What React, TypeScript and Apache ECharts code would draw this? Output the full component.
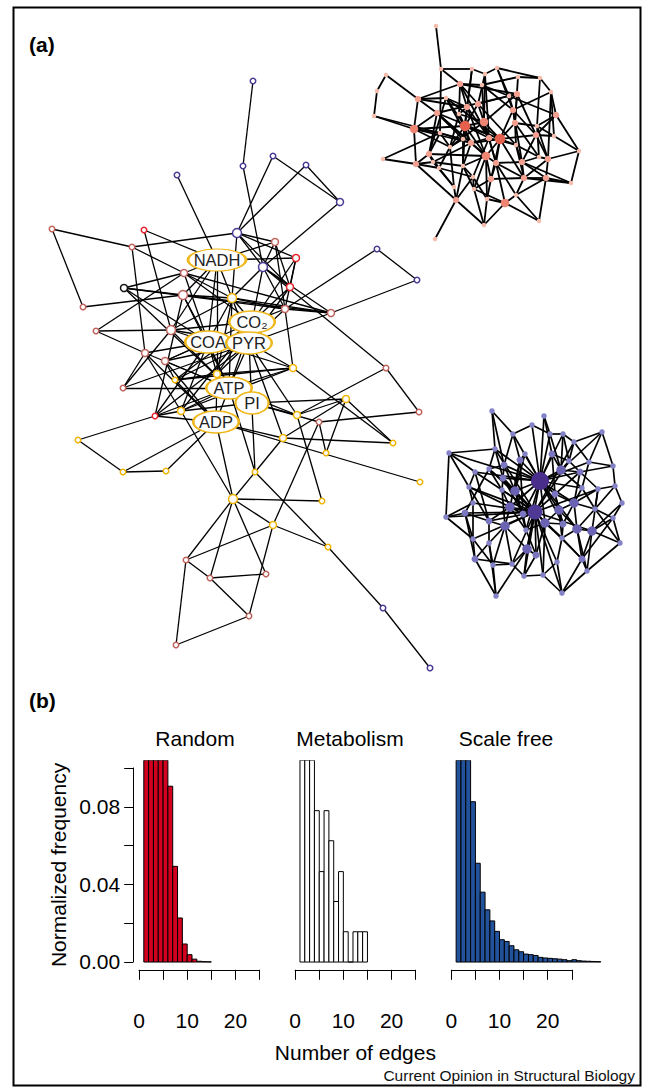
import React, { useEffect, useRef } from 'react';
import * as echarts from 'echarts';

// ---------- Histogram data (b) ----------
const degreeBins = [1, 2, 3, 4, 5, 6, 7, 8, 9, 10, 11, 12, 13, 14, 15, 16, 17, 18, 19, 20, 21, 22, 23, 24, 25, 26, 27, 28, 29, 30];
const randomFreq = [0.104, 0.104, 0.104, 0.104, 0.104, 0.0906, 0.0493, 0.0227, 0.0093, 0.0038, 0.0015, 0.0004, 0.0002, 0.0001];
const metabolismFreq = [0.104, 0.104, 0.104, 0.078, 0.0466, 0.078, 0.0625, 0.0312, 0.0466, 0.0156, 0, 0.0156, 0.0156, 0.0156];
const scaleFreeFreq = [0.104, 0.104, 0.104, 0.0826, 0.0509, 0.036, 0.0269, 0.0212, 0.0158, 0.0115, 0.0106, 0.0084, 0.0063, 0.0053, 0.0041, 0.0038, 0.0034, 0.0024, 0.0021, 0.0019, 0.0017, 0.0015, 0.0012, 0.0007, 0.0012, 0.0007, 0.0005, 0.0004, 0.0003, 0.0002];
const panelTitles = ['Random', 'Metabolism', 'Scale free'];
const xTickLabels = [0, 10, 20];
const yTickLabels = [0, 0.04, 0.08];

// ---------- Network data (a) ----------
// metabolism network: [name, layoutX, layoutY, group, degreeTier]
const metabNodes: [string, number, number, string, number][] = [
  ['NADH', 217, 260, 'L', 0], ['CO₂', 252, 322, 'L', 0], ['COA', 208, 342, 'L', 0], ['PYR', 249, 343, 'L', 0],
  ['ATP', 229, 388, 'L', 0], ['PI', 252, 403, 'L', 0], ['ADP', 216, 422, 'L', 0],
  ['p1', 253, 81, 'p', 1], ['p2', 243, 166, 'p', 1], ['p3', 273, 156, 'p', 1], ['p4', 306, 165, 'p', 1],
  ['p5', 177, 175, 'p', 1], ['p6', 340, 202, 'p', 2], ['p7', 237, 233, 'p', 3], ['p8', 263, 267, 'p', 3],
  ['p9', 377, 249, 'p', 1], ['p10', 417, 280, 'p', 1], ['p11', 383, 608, 'p', 1], ['p12', 430, 668, 'p', 1],
  ['r1', 52, 229, 'r', 1], ['r2', 144, 230, 'R', 1], ['r3', 132, 247, 'r', 1], ['r4', 275, 242, 'r', 2],
  ['r5', 296, 258, 'R', 2], ['r6', 184, 273, 'r', 2], ['k1', 124, 288, 'k', 2], ['r7', 183, 295, 'r', 3],
  ['r8', 290, 287, 'R', 2], ['y1', 232, 298, 'y', 3], ['r9', 285, 309, 'r', 2], ['r10', 331, 313, 'r', 2],
  ['r11', 83, 307, 'r', 1], ['r12', 96, 331, 'r', 1], ['r13', 171, 330, 'r', 3], ['r14', 145, 353, 'r', 2],
  ['r15', 165, 361, 'r', 2], ['y2', 175, 380, 'y', 1], ['y3', 217, 374, 'y', 2], ['r16', 123, 388, 'r', 1],
  ['r17', 155, 416, 'R', 1], ['y4', 181, 411, 'y', 2], ['y5', 78, 440, 'y', 1], ['y6', 293, 368, 'y', 2],
  ['r18', 386, 368, 'r', 1], ['y7', 346, 399, 'y', 2], ['r19', 419, 412, 'r', 1], ['y8', 297, 415, 'y', 2],
  ['r20', 319, 422, 'r', 1], ['y9', 283, 438, 'y', 2], ['y10', 393, 443, 'y', 1], ['y11', 326, 453, 'y', 1],
  ['y12', 123, 472, 'y', 1], ['y13', 166, 471, 'y', 1], ['y14', 255, 472, 'y', 1], ['y15', 420, 482, 'y', 1],
  ['y16', 233, 499, 'y', 3], ['y17', 322, 501, 'y', 1], ['y18', 273, 525, 'y', 2], ['y19', 328, 547, 'y', 1],
  ['r21', 186, 560, 'r', 1], ['r22', 210, 578, 'r', 1], ['r23', 266, 574, 'r', 1], ['r24', 249, 616, 'r', 1],
  ['r25', 176, 645, 'r', 1],
];
const metabLinks: [string, string][] = [
  ['p1', 'p2'], ['p2', 'p8'], ['p3', 'p7'], ['p3', 'p6'], ['p4', 'p7'], ['p4', 'p6'], ['p6', 'p8'], ['p5', 'NADH'], ['p9', 'p10'], ['p9', 'r9'], ['p10', 'r10'],
  ['p7', 'r3'], ['r1', 'r3'], ['r1', 'r11'], ['r2', 'NADH'], ['r2', 'r13'], ['r3', 'r14'], ['p7', 'p8'], ['p7', 'r5'], ['p7', 'y1'], ['p7', 'r8'], ['p7', 'r4'],
  ['r4', 'p8'], ['r4', 'NADH'], ['r4', 'r8'], ['r4', 'r9'], ['NADH', 'r5'], ['r8', 'CO₂'], ['r8', 'PYR'], ['p8', 'r9'], ['p8', 'r10'], ['p8', 'r8'], ['r9', 'r10'],
  ['r7', 'r10'], ['r6', 'r10'], ['k1', 'r9'], ['k1', 'r6'], ['k1', 'r7'], ['k1', 'COA'], ['r11', 'r7'], ['r12', 'r6'], ['r12', 'r13'], ['r12', 'r14'],
  ['r13', 'NADH'], ['r13', 'y1'], ['r13', 'CO₂'], ['r13', 'COA'], ['r13', 'ATP'], ['r14', 'ADP'], ['r14', 'y4'], ['r14', 'r16'], ['r14', 'COA'],
  ['r15', 'ATP'], ['r15', 'y2'], ['r15', 'COA'], ['r15', 'PYR'], ['r16', 'ATP'], ['r16', 'r13'], ['r17', 'y4'], ['r17', 'ATP'], ['r17', 'COA'], ['r17', 'y5'], ['r17', 'r7'],
  ['y2', 'PYR'], ['y2', 'CO₂'], ['y2', 'y3'], ['y3', 'COA'], ['y3', 'PYR'], ['y3', 'CO₂'], ['y3', 'y6'], ['y4', 'ATP'], ['y4', 'PI'], ['y4', 'CO₂'],
  ['y6', 'y10'], ['y6', 'COA'], ['y6', 'y2'], ['y6', 'r9'], ['r18', 'y8'], ['r18', 'r19'], ['r18', 'p8'], ['y7', 'y9'], ['y7', 'y8'], ['y7', 'y11'], ['y7', 'y10'],
  ['r20', 'r19'], ['r20', 'y18'], ['r20', 'y11'], ['y8', 'y17'], ['y8', 'PI'], ['y9', 'y10'], ['y9', 'y16'], ['y9', 'PYR'],
  ['ADP', 'y12'], ['ADP', 'y13'], ['ADP', 'y16'], ['ADP', 'y9'], ['ADP', 'y15'], ['ADP', 'r15'], ['y14', 'PYR'], ['y14', 'y19'], ['y14', 'ATP'],
  ['y16', 'y17'], ['y16', 'y18'], ['y16', 'r21'], ['y16', 'r22'], ['y16', 'r23'], ['y18', 'r21'], ['y18', 'y19'], ['y18', 'r24'], ['r21', 'r22'], ['r21', 'r25'],
  ['r22', 'r23'], ['r22', 'r24'], ['r24', 'r25'], ['y19', 'p11'], ['p11', 'p12'], ['y5', 'y12'], ['y12', 'y13'],
  ['ATP', 'COA'], ['ATP', 'PYR'], ['ATP', 'y3'], ['ATP', 'ADP'], ['ATP', 'PI'], ['ATP', 'y8'], ['ATP', 'y6'], ['ATP', 'CO₂'], ['PYR', 'CO₂'], ['PYR', 'y8'],
  ['PYR', 'y6'], ['PYR', 'r9'], ['PYR', 'r10'], ['PYR', 'y1'], ['COA', 'y1'], ['COA', 'NADH'], ['COA', 'r7'], ['COA', 'r6'], ['CO₂', 'r9'], ['CO₂', 'y1'],
  ['CO₂', 'r5'], ['NADH', 'y1'], ['NADH', 'r6'], ['NADH', 'r7'], ['NADH', 'y3'], ['r6', 'y1'], ['r7', 'y1'], ['y1', 'r10'], ['y1', 'r9'], ['PI', 'y7'],
  ['PI', 'r20'], ['ADP', 'r17'], ['y4', 'y16'], ['r5', 'r8'], ['r5', 'r9'], ['p8', 'CO₂'], ['r3', 'r6'],
  ['r6', 'CO₂'], ['r7', 'ATP'], ['r13', 'PYR'], ['r14', 'ATP'], ['y2', 'ADP'], ['y4', 'COA'], ['y3', 'ADP'], ['r15', 'CO₂'], ['k1', 'ATP'],
  ['y1', 'ATP'], ['y1', 'y3'], ['p8', 'y1'], ['r16', 'PYR'], ['r17', 'PYR'], ['y4', 'y6'],
];

// random network: [layoutX, layoutY, degreeTier]
const randomNodes: [number, number, number][] = [
  [436, 26, 1], [441, 69, 1], [472, 69, 1], [485, 74, 1], [497, 68, 1], [518, 77, 1], [540, 78, 1], [386, 75, 1], [377, 91, 1], [374, 116, 1],
  [418, 99, 2], [414, 129, 3], [460, 84, 2], [482, 85, 1], [446, 98, 1], [478, 104, 2], [467, 107, 2], [509, 96, 1], [517, 94, 2], [551, 92, 1],
  [437, 113, 2], [459, 114, 1], [513, 110, 2], [556, 115, 2], [465, 126, 4], [484, 122, 3], [500, 139, 4], [515, 123, 2], [537, 126, 1], [440, 133, 1],
  [536, 135, 2], [554, 136, 1], [489, 138, 2], [471, 143, 2], [463, 139, 1], [450, 147, 1], [516, 145, 1], [579, 151, 1], [429, 154, 2], [486, 156, 3],
  [383, 159, 1], [416, 164, 2], [433, 162, 1], [439, 168, 1], [463, 166, 1], [496, 163, 2], [522, 162, 2], [548, 159, 2], [539, 157, 1], [473, 177, 1],
  [491, 179, 2], [524, 178, 2], [546, 178, 2], [571, 183, 1], [454, 187, 1], [474, 189, 1], [516, 195, 1], [456, 200, 2], [487, 199, 1], [505, 203, 3],
  [484, 225, 1], [539, 221, 1], [435, 239, 1],
];
const randomLinks: [number, number][] = [
  [0, 1], [1, 2], [1, 29], [1, 12], [2, 3], [2, 16], [2, 24], [3, 4], [3, 15], [3, 25], [4, 6], [4, 22], [4, 17], [5, 6], [5, 13], [5, 27], [6, 19], [6, 28],
  [7, 8], [7, 10], [8, 9], [9, 11], [10, 11], [10, 12], [10, 20], [10, 14], [11, 41], [11, 29], [11, 24], [11, 33], [12, 13], [12, 15], [12, 21], [12, 18], [12, 32],
  [13, 25], [13, 22], [14, 16], [14, 26], [15, 17], [15, 24], [15, 36], [16, 21], [16, 39], [17, 18], [17, 23], [18, 27], [18, 30], [18, 20], [19, 23], [19, 22],
  [20, 34], [20, 39], [20, 26], [21, 33], [21, 25], [22, 26], [22, 46], [23, 30], [23, 37], [24, 25], [24, 26], [24, 34], [24, 44], [24, 32], [25, 26], [25, 45], [25, 35],
  [26, 27], [26, 36], [26, 51], [26, 33], [26, 50], [27, 28], [27, 48], [28, 31], [28, 47], [29, 35], [29, 38], [30, 31], [30, 46], [32, 33], [32, 49], [33, 42], [33, 39],
  [34, 35], [35, 43], [35, 54], [36, 46], [36, 48], [37, 47], [37, 53], [38, 41], [38, 42], [38, 39], [39, 45], [39, 55], [39, 44], [40, 41], [41, 57], [41, 43],
  [42, 44], [43, 54], [43, 49], [44, 49], [45, 46], [45, 50], [45, 59], [46, 52], [46, 51], [47, 48], [47, 52], [49, 58], [49, 55], [50, 58], [50, 51], [51, 52], [51, 56],
  [52, 53], [52, 56], [52, 61], [54, 57], [55, 59], [56, 59], [57, 62], [57, 60], [58, 59], [59, 60], [59, 61], [3, 32], [14, 38], [19, 47], [21, 35], [44, 55],
  [10, 16], [11, 20], [11, 35], [14, 24], [14, 33], [15, 25], [16, 32], [17, 22], [18, 25], [20, 33], [21, 24], [22, 30], [22, 27], [23, 28], [24, 35], [24, 39],
  [25, 32], [26, 39], [26, 45], [26, 30], [27, 36], [29, 34], [29, 33], [30, 47], [31, 37], [32, 45], [33, 44], [34, 44], [36, 51], [38, 43], [39, 50], [39, 58],
  [40, 29], [41, 42], [42, 54], [44, 57], [45, 51], [46, 48], [47, 51], [49, 57], [50, 55], [51, 53], [53, 46], [55, 60], [56, 61], [58, 60], [12, 16], [13, 17],
  [19, 31], [28, 48], [20, 38], [9, 29], [16, 34], [32, 36], [45, 56],
];

// scale-free network: [layoutX, layoutY, degreeTier]
const scaleFreeNodes: [number, number, number][] = [
  [492, 411, 1], [544, 416, 1], [532, 425, 1], [602, 432, 1], [513, 434, 1], [550, 434, 1], [563, 434, 1], [574, 442, 1], [449, 453, 1], [495, 449, 1],
  [525, 454, 1], [552, 454, 2], [520, 460, 2], [569, 461, 1], [589, 462, 1], [504, 465, 2], [613, 466, 1], [489, 469, 1], [475, 472, 1], [561, 470, 3],
  [580, 472, 2], [503, 478, 2], [540, 481, 5], [469, 487, 1], [615, 486, 1], [582, 488, 1], [598, 489, 1], [515, 491, 3], [502, 490, 1], [555, 494, 2],
  [473, 503, 1], [574, 503, 3], [622, 503, 1], [510, 507, 3], [595, 509, 1], [535, 512, 4], [559, 510, 3], [465, 513, 2], [446, 517, 1], [523, 514, 2],
  [613, 518, 1], [489, 521, 2], [545, 523, 3], [505, 526, 3], [563, 524, 2], [577, 529, 3], [592, 531, 3], [526, 530, 1], [473, 539, 1], [562, 538, 1],
  [620, 543, 1], [489, 543, 1], [527, 549, 3], [536, 555, 2], [475, 559, 2], [582, 559, 2], [557, 562, 1], [493, 565, 1], [512, 564, 1], [587, 571, 1],
  [524, 576, 1], [543, 575, 1], [562, 593, 1], [496, 596, 1],
];
const scaleFreeLinks: [number, number][] = [
  [22, 1], [22, 2], [22, 4], [22, 5], [22, 6], [22, 10], [22, 11], [22, 12], [22, 15], [22, 19], [22, 21], [22, 27], [22, 29], [22, 31], [22, 33], [22, 36],
  [22, 39], [22, 42], [22, 44], [22, 45], [22, 47], [22, 52], [22, 9], [22, 14], [22, 20], [22, 25], [22, 8], [22, 18],
  [35, 9], [35, 13], [35, 17], [35, 18], [35, 21], [35, 23], [35, 27], [35, 28], [35, 30], [35, 33], [35, 37], [35, 41], [35, 42], [35, 43], [35, 46], [35, 49],
  [35, 52], [35, 53], [35, 56], [35, 58], [35, 60], [35, 61], [35, 62], [35, 20], [35, 26], [35, 38], [35, 48], [35, 55], [35, 7],
  [19, 6], [19, 11], [19, 13], [19, 20], [19, 25], [19, 3], [27, 12], [27, 15], [27, 21], [27, 39], [27, 47], [27, 17], [31, 25], [31, 26], [31, 34], [31, 20], [31, 45],
  [33, 28], [33, 41], [33, 43], [33, 39], [33, 23], [36, 29], [36, 44], [36, 42], [36, 49], [36, 31], [42, 47], [42, 53], [42, 44], [42, 49],
  [43, 41], [43, 51], [43, 58], [43, 57], [43, 52], [45, 46], [45, 55], [45, 49], [45, 34], [46, 40], [46, 50], [46, 55], [52, 53], [52, 60], [52, 58], [52, 63],
  [0, 4], [0, 9], [8, 9], [8, 18], [8, 38], [3, 7], [3, 14], [14, 16], [16, 24], [24, 32], [32, 40], [40, 50], [50, 59], [59, 55], [62, 61], [61, 56], [60, 61],
  [57, 63], [54, 63], [54, 58], [54, 48], [48, 37], [37, 38], [38, 30], [30, 23], [23, 18], [17, 9], [1, 5], [5, 6], [6, 7], [7, 13], [2, 4], [10, 12], [11, 13], [26, 34],
  [34, 40], [24, 26], [16, 20], [15, 17], [28, 21], [37, 41], [51, 54], [51, 57], [56, 49], [59, 62],
  [0, 15], [1, 11], [4, 12], [5, 19], [6, 13], [8, 23], [9, 21], [10, 27], [11, 29], [12, 33], [13, 20], [14, 25], [15, 21], [17, 37], [18, 41], [20, 26],
  [21, 39], [23, 41], [25, 34], [26, 46], [28, 43], [29, 31], [30, 48], [31, 44], [32, 46], [33, 47], [34, 50], [36, 45], [37, 54], [39, 47], [40, 55],
  [41, 51], [42, 61], [44, 49], [45, 59], [46, 59], [47, 53], [48, 57], [49, 55], [51, 63], [53, 60], [55, 62], [56, 62], [57, 58], [58, 60], [3, 16], [7, 14],
  [2, 5], [4, 15], [12, 39], [29, 44], [38, 48], [17, 28], [24, 34],
];

const FONT = '"Liberation Sans", Arial, Helvetica, sans-serif';
const ELLIPSE = 'path://M0,50A50,50 0 1,1 100,50A50,50 0 1,1 0,50Z';

function buildOption(): any {
  // ---- histogram geometry (R plot regions) ----
  const unitPx = 4.82;
  const xMin = -1.2, xMax = 31.2;
  const panelW = (xMax - xMin) * unitPx;
  const panelLeft0 = 133.2;
  const plotTop = 760.2, plotH = 209.6; // y from -0.004 to 0.104
  const pxPerFreq = 1940;
  const zeroY = plotTop + 0.104 * pxPerFreq;

  const grids: any[] = [{ left: 0, top: 0, width: 652, height: 1090 }];
  const xAxes: any[] = [{ type: 'value', min: 0, max: 652, show: false, gridIndex: 0 }];
  const yAxes: any[] = [{ type: 'value', min: 0, max: 1090, inverse: true, show: false, gridIndex: 0 }];
  const series: any[] = [];

  const fills = ['#d2001e', '#ffffff', '#23529c'];
  const freqs = [randomFreq, metabolismFreq, scaleFreeFreq];

  for (let i = 0; i < 3; i++) {
    grids.push({ left: panelLeft0 + i * panelW, top: plotTop, width: panelW, height: plotH });
    xAxes.push({ type: 'value', min: xMin, max: xMax, show: false, gridIndex: i + 1 });
    yAxes.push({ type: 'value', min: -0.004, max: 0.104, show: false, gridIndex: i + 1 });
    const fill = fills[i];
    series.push({
      type: 'custom',
      coordinateSystem: 'cartesian2d',
      xAxisIndex: i + 1,
      yAxisIndex: i + 1,
      silent: true,
      clip: true,
      data: freqs[i].map((v, k) => [degreeBins[k], v]),
      renderItem: (_p: any, api: any) => {
        const k = api.value(0);
        const v = api.value(1);
        const a = api.coord([k, 0]);
        const b = api.coord([k + 1, v]);
        return {
          type: 'rect',
          shape: { x: a[0], y: b[1], width: b[0] - a[0], height: a[1] - b[1] },
          style: { fill, stroke: '#000', lineWidth: 1 },
        };
      },
    });
  }

  grids.push({ left: panelLeft0, top: zeroY - 0.1 * pxPerFreq, width: 10, height: 0.1 * pxPerFreq });
  xAxes.push({ type: 'value', show: false, gridIndex: 4 });
  yAxes.push({
    type: 'value', gridIndex: 4, min: 0, max: 0.1, interval: 0.02, position: 'left',
    axisLine: { show: true, lineStyle: { color: '#000', width: 1 } },
    axisTick: { show: true, length: 9, lineStyle: { color: '#000', width: 1 } },
    splitLine: { show: false },
    axisLabel: {
      margin: 13, fontSize: 21, color: '#000', fontFamily: FONT,
      formatter: (v: number) => (yTickLabels.some((t) => Math.abs(t - v) < 1e-9) ? v.toFixed(2) : ''),
    },
    name: 'Normalized frequency', nameLocation: 'middle', nameGap: 64,
    nameTextStyle: { fontSize: 21, color: '#000', fontFamily: FONT },
  });

  for (let i = 0; i < 3; i++) {
    const x0 = panelLeft0 + i * panelW - xMin * unitPx;
    grids.push({ left: x0, top: plotTop + plotH - 10, width: 25 * unitPx, height: 10 });
    yAxes.push({ type: 'value', show: false, gridIndex: 5 + i });
    xAxes.push({
      type: 'value', gridIndex: 5 + i, min: 0, max: 25, interval: 5, position: 'bottom',
      axisLine: { show: true, lineStyle: { color: '#000', width: 1 } },
      axisTick: { show: true, length: 10, lineStyle: { color: '#000', width: 1 } },
      splitLine: { show: false },
      axisLabel: {
        margin: 40, fontSize: 21, color: '#000', fontFamily: FONT,
        formatter: (v: number) => (xTickLabels.includes(v) ? String(v) : ''),
      },
      ...(i === 1
        ? {
            name: 'Number of edges', nameLocation: 'middle', nameGap: 72,
            nameTextStyle: { fontSize: 21, color: '#000', fontFamily: FONT },
          }
        : {}),
    });
  }

  // ---- networks ----
  const groupColor: Record<string, string> = { p: '#4b3a95', r: '#c0625c', R: '#e8222a', y: '#f0b400', k: '#111111' };
  const metabSize = [0, 5.5, 7, 9];
  series.push({
    type: 'graph', coordinateSystem: 'cartesian2d', xAxisIndex: 0, yAxisIndex: 0, layout: 'none', silent: true, z: 3,
    lineStyle: { color: '#000', width: 1.3, opacity: 1, curveness: 0 },
    emphasis: { disabled: true },
    data: metabNodes.map(([name, x, y, g, t]) =>
      g === 'L'
        ? {
            name, value: [x, y], symbol: ELLIPSE,
            symbolSize: [8 + name.length * 12.5, 22],
            itemStyle: { color: '#fff', borderColor: '#f0b81c', borderWidth: 1.8 },
            label: { show: true, position: 'inside', formatter: '{b}', fontSize: 16.5, color: '#222', fontFamily: FONT },
          }
        : {
            name, value: [x, y], symbol: 'circle', symbolSize: metabSize[t],
            itemStyle: { color: '#fff', borderColor: groupColor[g], borderWidth: 1.5 },
            label: { show: false },
          }
    ),
    links: metabLinks.map(([s, t]) => ({ source: s, target: t })),
  });

  const rndSize = [0, 4.5, 6.5, 8.5, 10.5];
  const rndColor = ['', '#f6bcae', '#f3a090', '#ee8572', '#e5604d'];
  series.push({
    type: 'graph', coordinateSystem: 'cartesian2d', xAxisIndex: 0, yAxisIndex: 0, layout: 'none', silent: true, z: 3,
    lineStyle: { color: '#000', width: 1.8, opacity: 1 },
    emphasis: { disabled: true },
    data: randomNodes.map(([x, y, t], i) => ({
      name: 'rn' + i, value: [x, y], symbol: 'circle', symbolSize: rndSize[t],
      itemStyle: { color: rndColor[t] }, label: { show: false },
    })),
    links: randomLinks.map(([s, t]) => ({ source: s, target: t })),
  });

  const sfSize = [0, 5.5, 7, 9.5, 15, 18];
  const sfColor = ['', '#8583c8', '#7a76c0', '#6a62b2', '#4e3a94', '#4a2e8c'];
  series.push({
    type: 'graph', coordinateSystem: 'cartesian2d', xAxisIndex: 0, yAxisIndex: 0, layout: 'none', silent: true, z: 3,
    lineStyle: { color: '#000', width: 1.7, opacity: 1 },
    emphasis: { disabled: true },
    data: scaleFreeNodes.map(([x, y, t], i) => ({
      name: 'sf' + i, value: [x, y], symbol: 'circle', symbolSize: sfSize[t],
      itemStyle: { color: sfColor[t] }, label: { show: false },
    })),
    links: scaleFreeLinks.map(([s, t]) => ({ source: s, target: t })),
  });

  const txt = (text: string, x: number, y: number, size: number, extra: any = {}) => ({
    type: 'text', x, y, silent: true, z: 10,
    style: { text, fontSize: size, fontFamily: FONT, fill: '#000', verticalAlign: 'middle', ...extra },
  });
  const titleCenters = [195, 350, 506];

  return {
    animation: false,
    backgroundColor: '#fff',
    grid: grids,
    xAxis: xAxes,
    yAxis: yAxes,
    series,
    graphic: [
      { type: 'rect', silent: true, z: 1, shape: { x: 13.5, y: 7.5, width: 627, height: 1078 }, style: { fill: 'none', stroke: '#000', lineWidth: 2 } },
      txt('(a)', 29, 44, 21, { fontWeight: 'bold' }),
      txt('(b)', 29, 700, 21, { fontWeight: 'bold' }),
      ...panelTitles.map((t, i) => txt(t, titleCenters[i], 738, 21, { align: 'center' })),
      txt('Current Opinion in Structural Biology', 635, 1075, 15.5, { align: 'right', fill: '#111' }),
    ],
  };
}

export default function App() {
  const ref = useRef<HTMLDivElement>(null);
  useEffect(() => {
    if (!ref.current) return;
    const chart = echarts.init(ref.current, undefined, { renderer: 'svg' });
    chart.setOption(buildOption());
    return () => chart.dispose();
  }, []);
  return (
    <div
      ref={ref}
      style={{ position: 'fixed', left: 0, top: 0, width: 652, height: 1090, background: '#fff' }}
    />
  );
}
